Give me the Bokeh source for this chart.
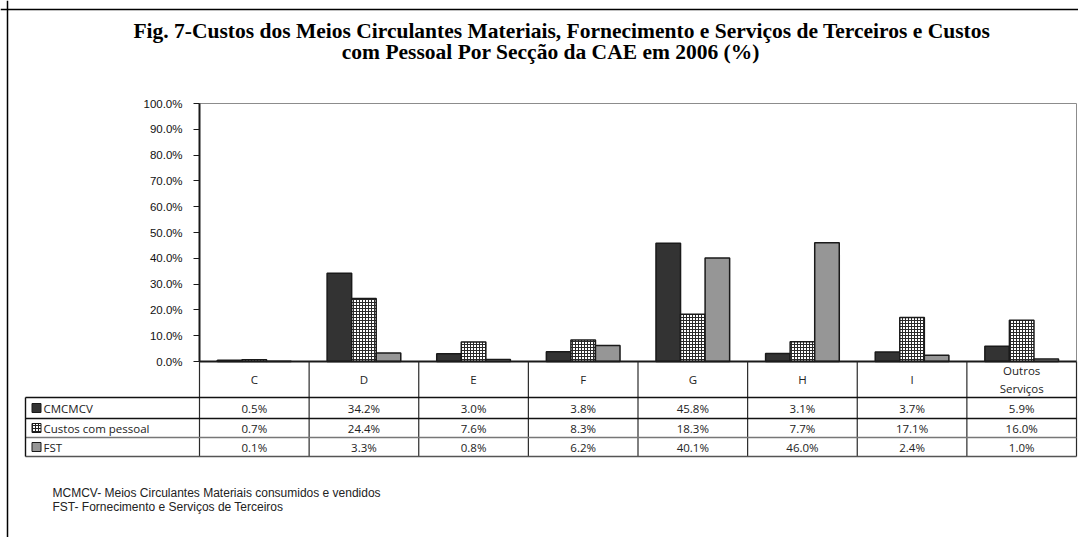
from bokeh.plotting import figure
from bokeh.models import Range1d, LinearAxis, FixedTicker, PrintfTickFormatter, Span, ColumnDataSource
from bokeh.core.properties import value
from bokeh.embed import file_html
from bokeh.resources import INLINE
from bokeh.transform import dodge

# ---------------- data ----------------
categories = ["C", "D", "E", "F", "G", "H", "I", "Outros Serviços"]
category_labels = ["C", "D", "E", "F", "G", "H", "I", "Outros\nServiços"]
series_names = ["CMCMCV", "Custos com pessoal", "FST"]
cmcmcv = [0.5, 34.2, 3.0, 3.8, 45.8, 3.1, 3.7, 5.9]
custos_pessoal = [0.7, 24.4, 7.6, 8.3, 18.3, 7.7, 17.1, 16.0]
fst = [0.1, 3.3, 0.8, 6.2, 40.1, 46.0, 2.4, 1.0]
y_ticks = [0, 10, 20, 30, 40, 50, 60, 70, 80, 90, 100]
title_lines = [
    "Fig. 7-Custos dos Meios Circulantes Materiais, Fornecimento e Serviços de Terceiros e  Custos",
    "com Pessoal Por Secção da CAE  em 2006 (%)",
]
footnotes = [
    "MCMCV- Meios Circulantes Materiais consumidos e vendidos",
    "FST- Fornecimento e Serviços de Terceiros",
]

# ---------------- layout (page pixels -> data units) ----------------
W, H = 1078, 537
PAGE = 0
AX_PX = 199.0      # page x of the value axis / start of category C
N = len(categories)
CW = (1076.0 - AX_PX) / N   # px per category
Y0_PX = 361.0      # page y of 0 %
PPU = 2.58         # px per percent


def X(px):
    return (px - AX_PX) / CW


def Y(py):
    return (Y0_PX - py) / PPU


p = figure(width=W, height=H, output_backend="svg", toolbar_location=None,
           x_range=Range1d(X(PAGE), X(PAGE + W)),
           y_range=Range1d(Y(PAGE + H), Y(PAGE)),
           x_axis_location=None, y_axis_location=None,
           min_border=0, outline_line_color=None)
p.grid.visible = False
p.background_fill_color = "white"
p.border_fill_color = "white"

INK = "#1a1a1a"
DARK = "#333333"
GRAY = "#969696"

# plot-area frame
p.quad(left=[0], right=[N], bottom=[0], top=[100], fill_color=None,
       line_color="#8c8c8c", line_width=1)

# bars
src = ColumnDataSource(dict(x=[i + 0.5 for i in range(N)], cat=categories,
                            a=cmcmcv, b=custos_pessoal, c=fst))
BW = 0.224
p.vbar(x=dodge("x", -BW), top="a", bottom=0, width=BW, source=src,
       fill_color=DARK, line_color=INK, line_width=1.5)
p.vbar(x="x", top="b", bottom=0, width=BW, source=src,
       fill_color="white", hatch_pattern="cross", hatch_color="#2a2a2a",
       hatch_scale=3, hatch_weight=1, line_color=INK, line_width=1.5)
p.vbar(x=dodge("x", BW), top="c", bottom=0, width=BW, source=src,
       fill_color=GRAY, line_color=INK, line_width=1.5)

# value axis
yax = LinearAxis(fixed_location=0, bounds=(0, 100),
                 ticker=FixedTicker(ticks=y_ticks),
                 formatter=PrintfTickFormatter(format="%.1f%%"))
yax.axis_line_color = INK
yax.axis_line_width = 2
yax.major_tick_line_color = INK
yax.major_tick_out = 6
yax.major_tick_in = 0
yax.minor_tick_out = 0
yax.minor_tick_in = 0
yax.major_label_standoff = 11
yax.major_label_text_font = "Liberation Sans"
yax.major_label_text_font_size = "11.5px"
yax.major_label_text_color = "#111111"
p.add_layout(yax, "left")

# ---------------- data table ----------------
row_edges_px = [397, 418, 437, 456]
LEFT_PX = 25
ytab_bottom = Y(row_edges_px[-1])

# category axis line (0 %)
p.segment(x0=[0], y0=[0], x1=[N], y1=[0], line_color=INK, line_width=1.8)
# column separators
p.segment(x0=list(range(N + 1)), y0=[0] * (N + 1), x1=list(range(N + 1)),
          y1=[ytab_bottom] * (N + 1), line_color="#2a2a2a", line_width=1.2)
# row lines
p.segment(x0=[X(LEFT_PX)] * len(row_edges_px), y0=[Y(v) for v in row_edges_px],
          x1=[N] * len(row_edges_px), y1=[Y(v) for v in row_edges_px],
          line_color=["#111111", "#111111", "#777777", "#555555"], line_width=1.4)
# legend column left edge
p.segment(x0=[X(LEFT_PX)], y0=[Y(row_edges_px[0])], x1=[X(LEFT_PX)], y1=[ytab_bottom],
          line_color="#111111", line_width=1.4)

TFONT = value("Open Sans")
# header labels
p.text(x=[i + 0.5 for i in range(N)], y=[Y(379)] * N, text=category_labels,
       text_align="center", text_baseline="middle", text_font=TFONT,
       text_font_size="11.5px", text_color="#222222", text_line_height=1.2)

row_centers = [(row_edges_px[k] + row_edges_px[k + 1]) / 2 for k in range(3)]
series = [cmcmcv, custos_pessoal, fst]
for k, vals in enumerate(series):
    p.text(x=[i + 0.5 for i in range(N)], y=[Y(row_centers[k])] * N,
           text=["%.1f%%" % v for v in vals], text_align="center",
           text_baseline="middle", text_font=TFONT, text_font_size="11.5px",
           text_color="#222222")

# legend keys in the table
key_x = X(36)
p.scatter(x=[key_x], y=[Y(row_centers[0])], marker="square", size=9,
          fill_color=DARK, line_color=INK, line_width=1)
p.scatter(x=[key_x], y=[Y(row_centers[1])], marker="square", size=9,
          fill_color="white", hatch_pattern="cross", hatch_color="#222222",
          hatch_scale=3, hatch_weight=1, line_color=INK, line_width=1)
p.scatter(x=[key_x], y=[Y(row_centers[2])], marker="square", size=9,
          fill_color=GRAY, line_color=INK, line_width=1)
p.text(x=[X(43)] * 3, y=[Y(c) for c in row_centers], text=series_names,
       text_align="left", text_baseline="middle", text_font=TFONT,
       text_font_size="11.5px", text_color="#222222")

# ---------------- title & footnotes ----------------
p.text(x=[X(564), X(553)], y=[Y(30), Y(51)], text=title_lines,
       text_align="center", text_baseline="middle",
       text_font=value("Liberation Serif"), text_font_style="bold",
       text_font_size="21.5px", text_color="black")
p.text(x=[X(52)] * 2, y=[Y(492), Y(506)], text=footnotes,
       text_align="left", text_baseline="middle",
       text_font=value("Liberation Sans"), text_font_size="12px",
       text_color="#222222")

# outer chart border (left and top visible)
p.add_layout(Span(location=X(7), dimension="height",
                  line_color="black", line_width=1.5))
p.add_layout(Span(location=Y(9), dimension="width",
                  line_color="black", line_width=1.5))

open("out.html", "w").write(file_html(p, INLINE))
